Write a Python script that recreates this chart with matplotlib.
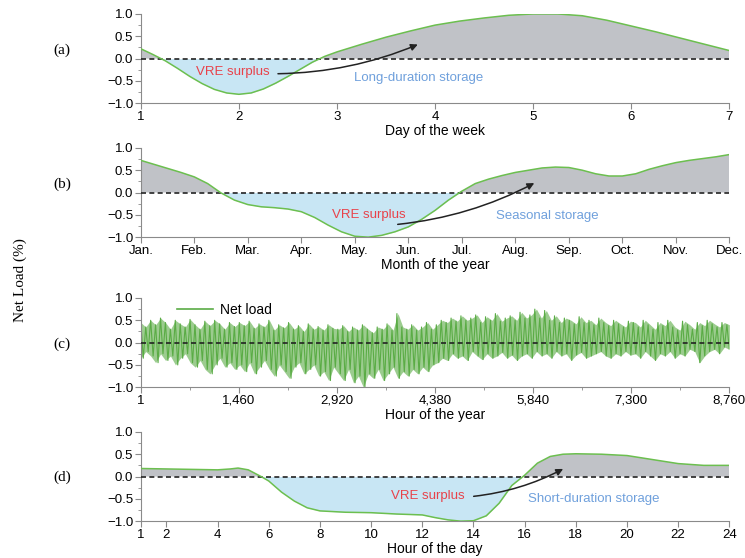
import numpy as np
import matplotlib; matplotlib.use('Agg')
import matplotlib.pyplot as plt
from matplotlib.ticker import MultipleLocator, FuncFormatter

# (a) weekly net load
week_days = [1, 1.125, 1.25, 1.375, 1.5, 1.625, 1.75, 1.875, 2, 2.125, 2.25,
             2.375, 2.5, 2.625, 2.75, 2.875, 3, 3.25, 3.5, 3.75, 4, 4.25, 4.5,
             4.75, 5, 5.25, 5.5, 5.75, 6, 6.25, 6.5, 6.75, 7]
week_load = [0.22, 0.09, -0.05, -0.22, -0.40, -0.56, -0.69, -0.77, -0.80,
             -0.77, -0.68, -0.55, -0.40, -0.24, -0.08, 0.05, 0.15, 0.32, 0.48,
             0.62, 0.75, 0.84, 0.91, 0.97, 1.0, 1.0, 0.96, 0.86, 0.73, 0.60,
             0.46, 0.32, 0.18]

# (b) monthly net load (1 = Jan ... 12 = Dec)
month_labels = ['Jan.', 'Feb.', 'Mar.', 'Apr.', 'May.', 'Jun.', 'Jul.', 'Aug.',
                'Sep.', 'Oct.', 'Nov.', 'Dec.']
month_pos = [1, 1.25, 1.5, 1.75, 2, 2.25, 2.5, 2.75, 3, 3.25, 3.5, 3.75, 4,
             4.25, 4.5, 4.75, 5, 5.25, 5.5, 5.75, 6, 6.25, 6.5, 6.75, 7, 7.25,
             7.5, 7.75, 8, 8.25, 8.5, 8.75, 9, 9.25, 9.5, 9.75, 10, 10.25, 10.5,
             10.75, 11, 11.25, 11.5, 11.75, 12]
month_load = [0.72, 0.63, 0.54, 0.45, 0.35, 0.2, -0.01, -0.17, -0.27, -0.32,
              -0.34, -0.37, -0.43, -0.56, -0.73, -0.88, -0.98, -1.0, -0.96,
              -0.88, -0.77, -0.6, -0.4, -0.17, 0.03, 0.2, 0.3, 0.38, 0.45, 0.5,
              0.55, 0.57, 0.56, 0.5, 0.42, 0.37, 0.37, 0.42, 0.52, 0.6, 0.67,
              0.72, 0.76, 0.8, 0.85]

# (c) hourly net load: spike highs and lows read roughly every 73 hours
hourly_high = [0.45, 0.35, 0.5, 0.4, 0.55, 0.45, 0.3, 0.5, 0.42, 0.35, 0.52, 0.4,
               0.3, 0.48, 0.38, 0.5, 0.42, 0.3, 0.45, 0.36,
               0.45, 0.38, 0.48, 0.32, 0.42, 0.35, 0.5, 0.28, 0.4, 0.33, 0.45, 0.3,
               0.38, 0.25, 0.42, 0.3, 0.36, 0.28, 0.4, 0.32,
               0.3, 0.38, 0.25, 0.35, 0.28, 0.4, 0.3, 0.22, 0.35, 0.3, 0.42, 0.28,
               0.65, 0.35, 0.3, 0.4, 0.28, 0.35, 0.45, 0.3,
               0.4, 0.5, 0.45, 0.55, 0.48, 0.6, 0.5, 0.55, 0.62, 0.45, 0.58, 0.5,
               0.65, 0.48, 0.55, 0.6, 0.5, 0.68, 0.55, 0.62,
               0.75, 0.55, 0.72, 0.5, 0.6, 0.45, 0.55, 0.5, 0.42, 0.58, 0.45, 0.5,
               0.4, 0.55, 0.45, 0.38, 0.5, 0.42, 0.35, 0.48,
               0.45, 0.35, 0.5, 0.4, 0.3, 0.45, 0.38, 0.5, 0.35, 0.28, 0.48, 0.4,
               0.3, 0.45, 0.38, 0.5, 0.42, 0.35, 0.45, 0.4]
hourly_low = [-0.35, -0.2, -0.3, -0.45, -0.25, -0.4, -0.3, -0.5, -0.35, -0.25,
              -0.45, -0.55, -0.4, -0.6, -0.7, -0.5, -0.35, -0.55, -0.45, -0.6,
              -0.5, -0.65, -0.45, -0.7, -0.55, -0.4, -0.6, -0.75, -0.5, -0.65,
              -0.8, -0.55, -0.45, -0.7, -0.6, -0.5, -0.75, -0.65, -0.85, -0.55,
              -0.7, -0.85, -0.6, -0.9, -0.75, -1.0, -0.7, -0.8, -0.6, -0.85,
              -0.7, -0.55, -0.8, -0.65, -0.75, -0.6, -0.7, -0.55, -0.65, -0.5,
              -0.45, -0.35, -0.4, -0.25, -0.35, -0.3, -0.4, -0.2, -0.3, -0.38,
              -0.25, -0.35, -0.3, -0.22, -0.35, -0.28, -0.4, -0.3, -0.25, -0.35,
              -0.2, -0.3, -0.25, -0.35, -0.2, -0.3, -0.25, -0.4, -0.28, -0.22,
              -0.35, -0.3, -0.25, -0.2, -0.3, -0.35, -0.25, -0.3, -0.2, -0.28,
              -0.25, -0.35, -0.2, -0.3, -0.4, -0.25, -0.3, -0.2, -0.35, -0.25,
              -0.3, -0.15, -0.2, -0.45, -0.3, -0.2, -0.15, -0.25, -0.1, -0.15]
year_ticks = [1, 1460, 2920, 4380, 5840, 7300, 8760]

# (d) daily net load
day_hours = [1, 2, 3, 4, 4.5, 4.8, 5.2, 5.7, 6, 6.5, 7, 7.5, 8, 9, 10, 11, 12,
             12.5, 13, 13.5, 14, 14.5, 15, 15.5, 16, 16.5, 17, 17.5, 18, 19, 20,
             21, 22, 23, 24]
day_load = [0.18, 0.17, 0.16, 0.15, 0.17, 0.19, 0.15, 0.0, -0.1, -0.35, -0.55,
            -0.7, -0.77, -0.8, -0.81, -0.84, -0.86, -0.92, -0.97, -1.0, -0.99,
            -0.88, -0.6, -0.2, 0.03, 0.3, 0.45, 0.5, 0.51, 0.5, 0.47, 0.38, 0.29,
            0.25, 0.25]
day_ticks = [1, 2, 4, 6, 8, 10, 12, 14, 16, 18, 20, 22, 24]

GREEN = '#6cbf4f'
GREY = '#c0c2c7'
BLUE = '#c8e6f4'
RED = '#e8424a'
LBLUE = '#6fa0dc'
SPINE = '#8a8a8a'

plt.rcParams['font.family'] = ['Liberation Sans', 'DejaVu Sans']
plt.rcParams['font.size'] = 9

fig = plt.figure(figsize=(7.45, 5.58), dpi=100)
left, width, height = 0.189, 0.790, 0.160
bottoms = [0.815, 0.575, 0.306, 0.066]
axes = [fig.add_axes([left, b, width, height]) for b in bottoms]


def style_axis(ax, xmin, xmax):
    ax.set_xlim(xmin, xmax)
    ax.set_ylim(-1.0, 1.0)
    for s in ('top', 'right'):
        ax.spines[s].set_visible(False)
    for s in ('left', 'bottom'):
        ax.spines[s].set_color(SPINE)
        ax.spines[s].set_linewidth(0.8)
    ax.yaxis.set_major_locator(MultipleLocator(0.5))
    ax.yaxis.set_minor_locator(MultipleLocator(0.25))
    ax.tick_params(which='both', direction='out', color=SPINE, labelsize=9.5, pad=1.5)
    ax.tick_params(which='major', length=4)
    ax.tick_params(which='minor', length=2.5)
    ax.plot([xmin, xmax], [0, 0], ls=(0, (3, 2)), color='#222222', lw=1.2, zorder=3)


def fill_curve(ax, x, y):
    x = np.asarray(x)
    y = np.asarray(y)
    ax.fill_between(x, y, 0, where=y >= 0, interpolate=True, color=GREY, lw=0)
    ax.fill_between(x, y, 0, where=y <= 0, interpolate=True, color=BLUE, lw=0)
    ax.plot(x, y, color=GREEN, lw=1.1, zorder=4)


def arrow(ax, xy, xytext, rad):
    ax.annotate('', xy=xy, xytext=xytext,
                arrowprops=dict(arrowstyle='-|>', color='#222222', lw=1.1,
                                mutation_scale=10,
                                connectionstyle=f'arc3,rad={rad}'),
                zorder=6)


# (a)
ax = axes[0]
fill_curve(ax, week_days, week_load)
style_axis(ax, 1, 7)
ax.set_xticks(range(1, 8))
ax.set_xlabel('Day of the week', fontsize=10, labelpad=1)
ax.text(1.94, -0.29, 'VRE surplus', color=RED, fontsize=9.5, ha='center', va='center', zorder=5)
ax.text(3.83, -0.43, 'Long-duration storage', color=LBLUE, fontsize=9.5, ha='center', va='center', zorder=5)
arrow(ax, (3.85, 0.34), (2.37, -0.34), 0.1)

# (b)
ax = axes[1]
fill_curve(ax, month_pos, month_load)
style_axis(ax, 1, 12)
ax.set_xticks(range(1, 13))
ax.set_xticklabels(month_labels)
ax.set_xlabel('Month of the year', fontsize=10, labelpad=1)
ax.text(5.27, -0.51, 'VRE surplus', color=RED, fontsize=9.5, ha='center', va='center', zorder=5)
ax.text(8.6, -0.53, 'Seasonal storage', color=LBLUE, fontsize=9.5, ha='center', va='center', zorder=5)
arrow(ax, (8.4, 0.24), (5.75, -0.72), 0.1)

# (c)
ax = axes[2]
band_x = np.linspace(1, 8760, len(hourly_high))
ax.fill_between(band_x, hourly_low, hourly_high, color='#5aab45', alpha=0.6, lw=0, zorder=1)
zig = np.ravel(np.column_stack([hourly_high, hourly_low]))
hours = np.linspace(1, 8760, len(zig))
ax.plot(hours, zig, color='#5aac45', lw=0.8, label='Net load', zorder=2)
style_axis(ax, 1, 8760)
ax.set_xticks(year_ticks)
ax.xaxis.set_major_formatter(FuncFormatter(lambda v, p: f'{int(v):,}'))
ax.xaxis.set_minor_locator(MultipleLocator(730))
ax.set_xlabel('Hour of the year', fontsize=10, labelpad=1)
leg = ax.legend(loc='upper left', bbox_to_anchor=(0.04, 1.08), frameon=False,
                fontsize=10, handlelength=2.6, handletextpad=0.5)
for h in leg.get_lines():
    h.set_linewidth(1.2)

# (d)
ax = axes[3]
fill_curve(ax, day_hours, day_load)
style_axis(ax, 1, 24)
ax.set_xticks(day_ticks)
ax.set_xlabel('Hour of the day', fontsize=10, labelpad=1)
ax.text(12.2, -0.43, 'VRE surplus', color=RED, fontsize=9.5, ha='center', va='center', zorder=5)
ax.text(18.7, -0.5, 'Short-duration storage', color=LBLUE, fontsize=9.5, ha='center', va='center', zorder=5)
arrow(ax, (17.6, 0.2), (13.9, -0.45), 0.1)

# panel letters and shared y label
serif = ['Liberation Serif', 'DejaVu Serif']
for lab, yc in zip(['(a)', '(b)', '(c)', '(d)'], [50, 184, 344, 477]):
    fig.text(62 / 745, 1 - yc / 558, lab, family=serif, fontsize=11, ha='center', va='center')
fig.text(20 / 745, 1 - 280 / 558, 'Net Load (%)', family=serif, fontsize=11,
         rotation=90, ha='center', va='center')

fig.savefig('out.png', dpi=100)
plt.close(fig)
